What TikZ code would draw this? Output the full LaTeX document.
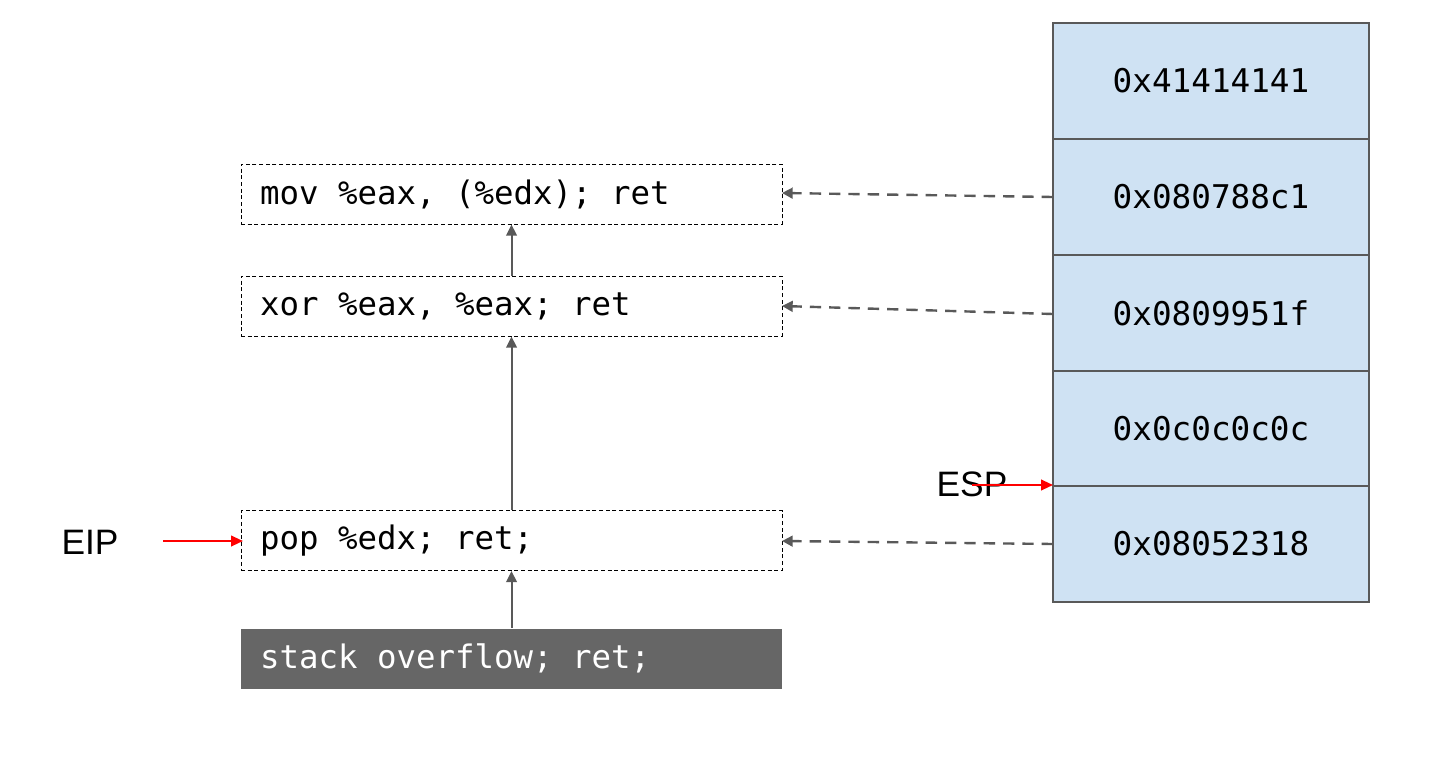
\documentclass[tikz,border=0pt]{standalone}
\usepackage{fontspec}
\usetikzlibrary{arrows.meta}
\setmainfont{Liberation Sans}
\newfontfamily\codefont{DejaVu Sans Mono}
\newfontfamily\stackfont{DejaVu Sans Mono}
\newcommand{\gsp}{\hskip0.602em\relax}
\definecolor{edgegray}{HTML}{595959}
\definecolor{boxgray}{HTML}{666666}
\definecolor{cellblue}{HTML}{CFE2F3}
\tikzset{
  gadget/.style={draw=black, dash pattern=on 3pt off 2pt, line width=0.6pt, rectangle,
    minimum width=405.75pt, minimum height=45pt, text width=377.25pt, inner xsep=14.25pt,
    align=left, font={\codefont\fontsize{24.3}{29}\selectfont}, text=black},
  gadgetfill/.style={gadget, solid, draw=none, fill=boxgray, text=white},
  cell/.style={draw=edgegray, fill=cellblue, line width=0.8pt, rectangle,
    minimum width=237pt, minimum height=87pt, inner sep=0pt,
    font=\stackfont\fontsize{24.5}{29}\selectfont},
  flow/.style={draw=edgegray, line width=1.5pt, -{Triangle[length=8.5pt,width=8pt]}},
  ptr/.style={draw=edgegray, line width=1.8pt, dash pattern=on 8.5pt off 6pt, -{Triangle[length=8pt,width=8pt]}},
  reg/.style={draw=red, line width=1.5pt, -{Triangle[length=9pt,width=8pt]}},
  lbl/.style={font=\fontsize{26.5}{30}\selectfont, inner sep=0pt}
}
\begin{document}
\begin{tikzpicture}[x=0.75pt,y=-0.75pt]
\useasboundingbox (0,0) rectangle (1436,761);
% gadget boxes
\node[gadget] (mov) at (511.5,194) {mov\gsp\%eax,\gsp(\%edx);\gsp ret};
\node[gadget] (xor) at (511.5,306) {xor\gsp\%eax,\gsp\%eax;\gsp ret};
\node[gadget] (pop) at (511.5,540.5) {pop\gsp\%edx;\gsp ret;};
\node[gadgetfill] (ovf) at (511.5,658.5) {stack\gsp overflow;\gsp ret;};
% stack cells
\node[cell] (c1) at (1211,81) {0x41414141};
\node[cell] (c2) at (1211,197) {0x080788c1};
\node[cell] (c3) at (1211,313) {0x0809951f};
\node[cell] (c4) at (1211,429) {0x0c0c0c0c};
\node[cell] (c5) at (1211,544) {0x08052318};
% flow arrows
\draw[flow] (ovf.north) -- (pop.south);
\draw[flow] (pop.north) -- (xor.south);
\draw[flow] (xor.north) -- (mov.south);
% pointer arrows
\coordinate (p2) at (1053,197);
\coordinate (p3) at (1053,314);
\coordinate (p5) at (1053,544);
\coordinate (t1) at (782,193);
\coordinate (t2) at (782,306);
\coordinate (t3) at (782,541);
\draw[ptr] (p2) -- (t1);
\draw[ptr] (p3) -- (t2);
\draw[ptr] (p5) -- (t3);
% registers
\node[lbl] (eip) at (90,542) {EIP};
\coordinate (eipstart) at (163,541);
\coordinate (eipend) at (243,541);
\draw[reg] (eipstart) -- (eipend);
\node[lbl] (esp) at (972,484) {ESP};
\coordinate (espstart) at (972,485);
\coordinate (espend) at (1053,485);
\draw[reg] (espstart) -- (espend);
\end{tikzpicture}
\end{document}
